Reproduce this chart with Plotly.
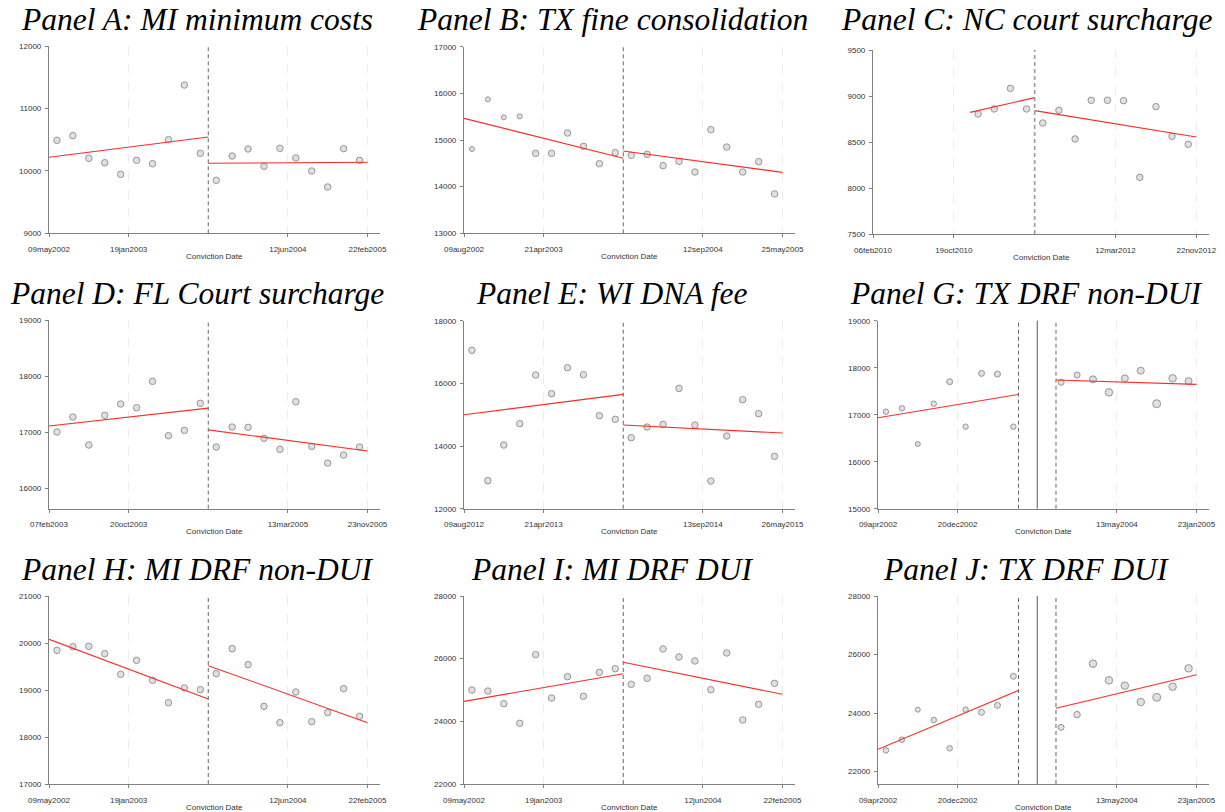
import plotly.graph_objects as go

W, H = 1225, 812

# ---------------- data ----------------
# x positions: days relative to the policy cutoff (bin centres)
bins_left = [-484.5, -433.5, -382.5, -331.5, -280.5, -229.5, -178.5, -127.5, -76.5, -25.5]
bins_right = [25.5, 76.5, 127.5, 178.5, 229.5, 280.5, 331.5, 382.5, 433.5, 484.5]
c_bins_left = [-178.5, -127.5, -76.5, -25.5]
donut_left = [-484.5, -433.5, -382.5, -331.5, -280.5, -229.5, -178.5, -127.5, -76.5]
donut_right = [76.5, 127.5, 178.5, 229.5, 280.5, 331.5, 382.5, 433.5, 484.5]
tick_days = [-510, -255, 255, 510]

titles = ["Panel A: MI minimum costs", "Panel B: TX fine consolidation", "Panel C: NC court surcharge",
          "Panel D: FL Court surcharge", "Panel E: WI DNA fee", "Panel G: TX DRF non-DUI",
          "Panel H: MI DRF non-DUI", "Panel I: MI DRF DUI", "Panel J: TX DRF DUI"]

ticks_A = ["09may2002", "19jan2003", "12jun2004", "22feb2005"]
ticks_B = ["09aug2002", "21apr2003", "12sep2004", "25may2005"]
ticks_C = ["06feb2010", "19oct2010", "12mar2012", "22nov2012"]
ticks_D = ["07feb2003", "20oct2003", "13mar2005", "23nov2005"]
ticks_E = ["09aug2012", "21apr2013", "13sep2014", "26may2015"]
ticks_G = ["09apr2002", "20dec2002", "13may2004", "23jan2005"]
ticks_H = ["09may2002", "19jan2003", "12jun2004", "22feb2005"]
ticks_I = ["09may2002", "19jan2003", "12jun2004", "22feb2005"]
ticks_J = ["09apr2002", "20dec2002", "13may2004", "23jan2005"]

A_left = [10489, 10564, 10201, 10131, 9944, 10169, 10115, 10500, 11375, 10281]
A_right = [9848, 10238, 10350, 10073, 10361, 10206, 9998, 9742, 10356, 10169]
A_fit_left = [10217, 10542]
A_fit_right = [10121, 10137]

B_left = [14807, 15871, 15486, 15507, 14714, 14714, 15150, 14864, 14493, 14729]
B_right = [14671, 14693, 14450, 14543, 14314, 15221, 14850, 14314, 14536, 13843]
B_fit_left = [15464, 14607]
B_fit_right = [14764, 14307]

C_left = [8804, 8859, 9083, 8859]
C_right = [8707, 8844, 8533, 8953, 8953, 8949, 8116, 8884, 8562, 8475]
C_fit_left = [8822, 8982]
C_fit_right = [8841, 8554]

D_left = [17004, 17271, 16772, 17301, 17503, 17437, 17907, 16938, 17033, 17515]
D_right = [16736, 17093, 17087, 16891, 16695, 17544, 16747, 16450, 16594, 16736]
D_fit_left = [17110, 17430]
D_fit_right = [17042, 16666]

E_left = [17053, 12894, 14032, 14713, 16266, 15670, 16500, 16277, 14968, 14851]
E_right = [14266, 14606, 14691, 15840, 14670, 12883, 14319, 15479, 15032, 13670]
E_fit_left = [15000, 15649]
E_fit_right = [14670, 14415]

G_left = [17064, 17135, 16376, 17234, 17702, 16745, 17879, 17865, 16745]
G_right = [17688, 17844, 17752, 17475, 17773, 17936, 17234, 17773, 17716]
G_fit_left = [16936, 17433]
G_fit_right = [17738, 17645]

H_left = [19844, 19922, 19929, 19773, 19333, 19631, 19206, 18730, 19043, 19007]
H_right = [19348, 19879, 19539, 18652, 18305, 18957, 18326, 18518, 19028, 18440]
H_fit_left = [20078, 18809]
H_fit_right = [19518, 18305]

I_left = [25000, 24968, 24564, 23936, 26128, 24745, 25426, 24798, 25564, 25681]
I_right = [25181, 25372, 26309, 26053, 25926, 25011, 26181, 24043, 24543, 25213]
I_fit_left = [24638, 25521]
I_fit_right = [25883, 24862]

J_left = [22727, 23091, 24116, 23763, 22797, 24116, 24026, 24265, 25256]
J_right = [23514, 23947, 25689, 25119, 24937, 24379, 24539, 24903, 25529]
J_fit_left = [22763, 24778]
J_fit_right = [24163, 25313]

# fit line x-extents (days)
fit_x_left = [-510, 0]
fit_x_right = [0, 510]
C_fit_x_left = [-204, 0]
donut_fit_x_left = [-510, -60]
donut_fit_x_right = [60, 510]
donut_edges = [-60, 60]

# y axes
y_ranges = [[9000, 12000], [13000, 17000], [7500, 9500],
            [15637, 19000], [12000, 18000], [15000, 19000],
            [17000, 21000], [22000, 28000], [21578, 28000]]
y_ticks = [[9000, 10000, 11000, 12000], [13000, 14000, 15000, 16000, 17000],
           [7500, 8000, 8500, 9000, 9500], [16000, 17000, 18000, 19000],
           [12000, 14000, 16000, 18000], [15000, 16000, 17000, 18000, 19000],
           [17000, 18000, 19000, 20000, 21000], [22000, 24000, 26000, 28000],
           [22000, 24000, 26000, 28000]]

# ---------------- style / layout ----------------
base_size = 6.5
sizes_B_left = [5, 5, 5, 5, 6.5, 6.5, 6.5, 6.5, 6.5, 6.5]
sizes_G_left = [5.5, 5.5, 5, 5.5, 6, 5.5, 6, 6, 5.5]
sizes_G_right = [6, 6, 7, 7.5, 7, 7, 8, 7.5, 7]
sizes_J_left = [5.5, 5.5, 5, 5.5, 5.5, 5.5, 6, 6, 6]
sizes_J_right = [6, 6.5, 7.5, 7.5, 7.5, 7.5, 8, 7.5, 7.5]

panels = [
    dict(xl=bins_left, yl=A_left, xr=bins_right, yr=A_right, fxl=fit_x_left, fyl=A_fit_left,
         fxr=fit_x_right, fyr=A_fit_right, ticks=ticks_A, donut=False),
    dict(xl=bins_left, yl=B_left, xr=bins_right, yr=B_right, fxl=fit_x_left, fyl=B_fit_left,
         fxr=fit_x_right, fyr=B_fit_right, ticks=ticks_B, donut=False, sl=sizes_B_left),
    dict(xl=c_bins_left, yl=C_left, xr=bins_right, yr=C_right, fxl=C_fit_x_left, fyl=C_fit_left,
         fxr=fit_x_right, fyr=C_fit_right, ticks=ticks_C, donut=False,
         cut=dict(color="#9a9a9a", width=1.6, dash="4px,3px")),
    dict(xl=bins_left, yl=D_left, xr=bins_right, yr=D_right, fxl=fit_x_left, fyl=D_fit_left,
         fxr=fit_x_right, fyr=D_fit_right, ticks=ticks_D, donut=False),
    dict(xl=bins_left, yl=E_left, xr=bins_right, yr=E_right, fxl=fit_x_left, fyl=E_fit_left,
         fxr=fit_x_right, fyr=E_fit_right, ticks=ticks_E, donut=False),
    dict(xl=donut_left, yl=G_left, xr=donut_right, yr=G_right, fxl=donut_fit_x_left, fyl=G_fit_left,
         fxr=donut_fit_x_right, fyr=G_fit_right, ticks=ticks_G, donut=True,
         sl=sizes_G_left, sr=sizes_G_right),
    dict(xl=bins_left, yl=H_left, xr=bins_right, yr=H_right, fxl=fit_x_left, fyl=H_fit_left,
         fxr=fit_x_right, fyr=H_fit_right, ticks=ticks_H, donut=False),
    dict(xl=bins_left, yl=I_left, xr=bins_right, yr=I_right, fxl=fit_x_left, fyl=I_fit_left,
         fxr=fit_x_right, fyr=I_fit_right, ticks=ticks_I, donut=False),
    dict(xl=donut_left, yl=J_left, xr=donut_right, yr=J_right, fxl=donut_fit_x_left, fyl=J_fit_left,
         fxr=donut_fit_x_right, fyr=J_fit_right, ticks=ticks_J, donut=True,
         sl=sizes_J_left, sr=sizes_J_right),
]

# plot-area pixel boxes (left, right, top, bottom)
boxes = [
    (49, 380, 46, 233.3), (464, 795, 46.7, 233.3), (873, 1209, 50, 234),
    (49, 380, 320, 508.7), (464, 795, 320.7, 508.7), (878, 1209, 320.7, 508.7),
    (49, 380, 596, 784), (464, 795, 596, 784), (878, 1209, 596, 784),
]
title_centers_x = [197, 612, 1026]
title_centers_y = [20, 294, 569]

AX = "#808080"
TXT = "#333333"
SANS = "Liberation Sans"
SERIF = "Liberation Serif"
MFILL = "#d4d4d4"
MLINE = "#6a6a6a"
CUT_DEFAULT = dict(color="#666666", width=1, dash="4px,3px")

fig = go.Figure()
layout = dict(width=W, height=H, margin=dict(l=0, r=0, t=0, b=0, pad=0, autoexpand=False),
              paper_bgcolor="white", plot_bgcolor="white", showlegend=False,
              font=dict(family=SANS))
shapes = []
annotations = []

for i, p in enumerate(panels):
    n = i + 1
    xa = "x" if n == 1 else f"x{n}"
    ya = "y" if n == 1 else f"y{n}"
    sl = p.get("sl", [base_size] * len(p["xl"]))
    sr = p.get("sr", [base_size] * len(p["xr"]))
    for xs, ys, ss in ((p["xl"], p["yl"], sl), (p["xr"], p["yr"], sr)):
        fig.add_trace(go.Scatter(x=xs, y=ys, mode="markers", xaxis=xa, yaxis=ya,
                                 marker=dict(size=ss, color=MFILL, line=dict(color=MLINE, width=1)),
                                 hoverinfo="skip"))
    for xs, ys in ((p["fxl"], p["fyl"]), (p["fxr"], p["fyr"])):
        fig.add_trace(go.Scatter(x=xs, y=ys, mode="lines", xaxis=xa, yaxis=ya,
                                 line=dict(color="#ff2a2a", width=1.1), hoverinfo="skip"))

    l, r, t, b = boxes[i]
    xkey = "xaxis" if n == 1 else f"xaxis{n}"
    ykey = "yaxis" if n == 1 else f"yaxis{n}"
    layout[xkey] = dict(domain=[l / W, r / W], anchor=ya, range=[-510, 550],
                        tickvals=tick_days, ticktext=p["ticks"], ticks="outside", ticklen=3,
                        tickcolor=AX, showline=True, linecolor=AX, linewidth=1.2,
                        showgrid=True, gridcolor="#ececec", griddash="dash", gridwidth=1,
                        zeroline=False, tickfont=dict(family=SANS, size=8, color=TXT),
                        ticklabelstandoff=5, automargin=False, fixedrange=True)
    layout[ykey] = dict(domain=[1 - b / H, 1 - t / H], anchor=xa, range=y_ranges[i],
                        tickvals=y_ticks[i], ticks="outside", ticklen=3, tickcolor=AX,
                        showline=True, linecolor=AX, linewidth=1.2, showgrid=False,
                        zeroline=False, tickfont=dict(family=SANS, size=8, color=TXT),
                        tickformat="d", ticklabelstandoff=2, automargin=False, fixedrange=True)

    xref = xa
    yref_dom = f"{ya} domain"
    if p["donut"]:
        for d in donut_edges:
            shapes.append(dict(type="line", xref=xref, yref=yref_dom, x0=d, x1=d, y0=0, y1=1,
                               line=CUT_DEFAULT))
        shapes.append(dict(type="line", xref=xref, yref=yref_dom, x0=0, x1=0, y0=0, y1=1,
                           line=dict(color="#555555", width=1)))
    else:
        shapes.append(dict(type="line", xref=xref, yref=yref_dom, x0=0, x1=0, y0=0, y1=1,
                           line=p.get("cut", CUT_DEFAULT)))

    annotations.append(dict(text=titles[i], xref="paper", yref="paper",
                            x=title_centers_x[i % 3] / W, y=1 - title_centers_y[i // 3] / H,
                            xanchor="center", yanchor="middle", showarrow=False,
                            font=dict(family=SERIF, size=31.5, color="black", style="italic")))
    annotations.append(dict(text="Conviction Date", xref=f"{xa} domain", yref="paper",
                            x=0.5, y=1 - (b + 23) / H, xanchor="center", yanchor="middle",
                            showarrow=False, font=dict(family=SANS, size=8, color=TXT)))

layout["shapes"] = shapes
layout["annotations"] = annotations
fig.update_layout(**layout)
fig.write_html("out.html")
